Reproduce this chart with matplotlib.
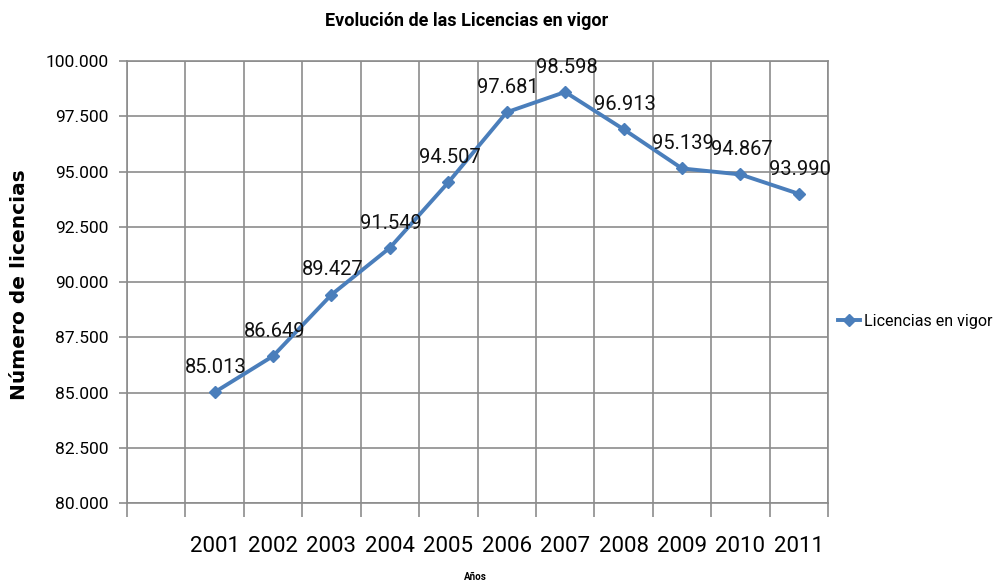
import numpy as np
import matplotlib.pyplot as plt
from matplotlib.ticker import FuncFormatter, FixedLocator
from matplotlib.lines import Line2D

# Data
years = ["2001", "2002", "2003", "2004", "2005", "2006", "2007", "2008", "2009", "2010", "2011"]
licencias = [85013, 86649, 89427, 91549, 94507, 97681, 98598, 96913, 95139, 94867, 93990]

LINE_COLOR = "#4A7EBB"
GRID_COLOR = "#8C8C8C"

plt.rcParams['font.family'] = ['Roboto', 'DejaVu Sans']

fig = plt.figure(figsize=(10, 5.86), dpi=100)
ax = fig.add_axes([0.127, 0.1416, 0.701, 0.7543])

# first category slot is empty, so points sit in slots 2..12
x_pos = np.arange(len(years)) + 1.5
ax.plot(x_pos, licencias, color=LINE_COLOR, linewidth=2.8, marker="D",
        markersize=6, zorder=3)

for x, v in zip(x_pos, licencias):
    label = f"{v:,}".replace(",", ".")
    ax.annotate(label, (x, v), xytext=(1, 11), textcoords="offset points",
                ha="center", va="bottom", fontsize=14.5, color="#111111")

ax.set_xlim(0, 12)
ax.set_ylim(80000, 100000)
ax.yaxis.set_major_locator(FixedLocator(np.arange(80000, 100001, 2500)))
ax.yaxis.set_major_formatter(FuncFormatter(lambda v, p: f"{int(v):,}".replace(",", ".")))

ax.set_xticks(x_pos)
ax.set_xticklabels(years, fontsize=16)
ax.set_xticks(np.arange(0, 13), minor=True)
ax.tick_params(axis="x", which="major", length=0, pad=24)
ax.tick_params(axis="x", which="minor", length=10, color=GRID_COLOR, width=1.2)
ax.tick_params(axis="y", which="major", length=6, color=GRID_COLOR, width=1.2,
               labelsize=12.5, pad=7)

ax.grid(True, which="major", axis="y", color=GRID_COLOR, linewidth=1.2)
ax.grid(True, which="minor", axis="x", color=GRID_COLOR, linewidth=1.2)
ax.set_axisbelow(True)
for side in ["left", "bottom", "right", "top"]:
    ax.spines[side].set_color(GRID_COLOR)
    ax.spines[side].set_linewidth(1.2)

fig.text(0.467, 0.965, "Evolución de las Licencias en vigor", ha="center", va="center",
         fontsize=13, fontweight="bold")
fig.text(0.02, 0.515, "Número de licencias", rotation=90, ha="center", va="center",
         fontsize=14.5, fontweight="bold", family=["DejaVu Sans"])
fig.text(0.475, 0.015, "Años", ha="center", va="center", fontsize=7, fontweight="bold")

handle = Line2D([], [], color=LINE_COLOR, linewidth=2.8, marker="D", markersize=6)
fig.legend([handle], ["Licencias en vigor"], loc="center left",
           bbox_to_anchor=(0.838, 0.452), frameon=False, fontsize=11.5,
           handlelength=1.4, handletextpad=0.2, borderaxespad=0, borderpad=0)

plt.savefig("out.png", dpi=100)
